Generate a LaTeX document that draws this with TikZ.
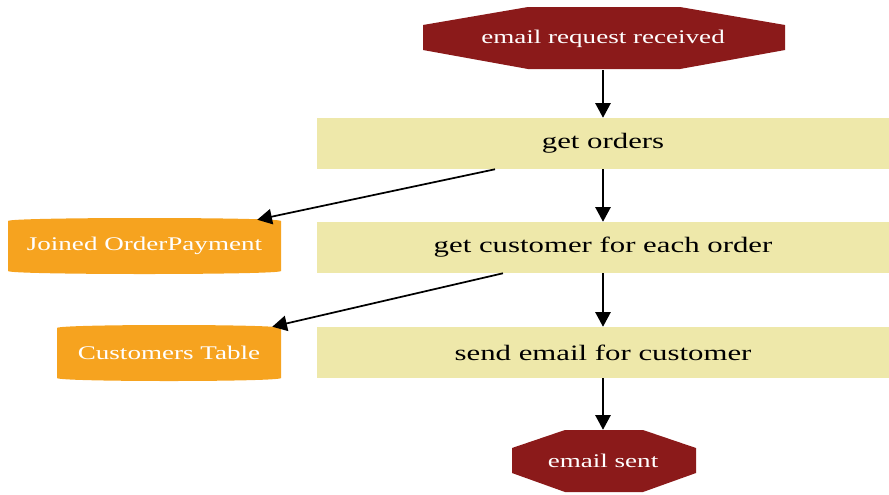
\documentclass[tikz,border=0pt]{standalone}
\usepackage{fontspec}
\setmainfont[FakeStretch=1.4]{Liberation Serif}
\usetikzlibrary{arrows.meta,calc}
\definecolor{octred}{HTML}{8B1A1A}
\definecolor{boxfill}{HTML}{EEE8AA}
\definecolor{cylfill}{HTML}{F6A31F}
\begin{document}
\begin{tikzpicture}[x=0.75pt,y=-0.75pt,
  flow/.style={-{Triangle[length=11pt,width=11.5pt]}, line width=1.3pt, black},
  stepbox/.style={fill=boxfill, minimum width=572*0.75pt, minimum height=51*0.75pt,
    inner sep=0pt, font=\fontsize{16.5}{18}\selectfont},
  lighttext/.style={text=white, inner sep=0pt, font=\fontsize{14.5}{16}\selectfont},
]
\useasboundingbox (0,0) rectangle (889,494);

% terminal octagons
\fill[octred] (528,7)--(680,7)--(785,25)--(785,50)--(680,69)--(528,69)--(423,50)--(423,25)--cycle;
\node[lighttext, minimum width=362*0.75pt, minimum height=62*0.75pt] (start) at (603,39) {email request received};
\fill[octred] (565,430)--(643,430)--(696,448)--(696,473)--(643,492)--(565,492)--(512,473)--(512,448)--cycle;
\node[lighttext, minimum width=184*0.75pt, minimum height=62*0.75pt] (sent) at (603,461) {email sent};

% process steps
\node[stepbox] (orders) at (603,143.5) {get orders};
\node[stepbox] (cust) at (603,247.5) {get customer for each order};
\node[stepbox] (mail) at (603,352.5) {send email for customer};

% data stores
\fill[cylfill] (8,221) -- (8,271) .. controls (8,275) and (281,275) .. (281,271)
  -- (281,221) .. controls (281,217) and (8,217) .. (8,221) -- cycle;
\node[lighttext, minimum width=273*0.75pt, minimum height=56*0.75pt] (joined) at (144.5,246) {Joined OrderPayment};
\fill[cylfill] (57,328) -- (57,378) .. controls (57,382) and (281,382) .. (281,378)
  -- (281,328) .. controls (281,324) and (57,324) .. (57,328) -- cycle;
\node[lighttext, minimum width=224*0.75pt, minimum height=56*0.75pt] (table) at (169,353) {Customers Table};

% connectors
\draw[flow] (start.south) -- (orders.north);
\draw[flow] (orders.south) -- (cust.north);
\draw[flow] (cust.south) -- (mail.north);
\draw[flow] (mail.south) -- (sent.north);
\draw[flow] ($(orders.south)+(-108,0)$) -- ($(joined.north east)+(-24,2)$);
\draw[flow] ($(cust.south)+(-100,0)$) -- ($(table.north east)+(-9,2)$);
\end{tikzpicture}
\end{document}
